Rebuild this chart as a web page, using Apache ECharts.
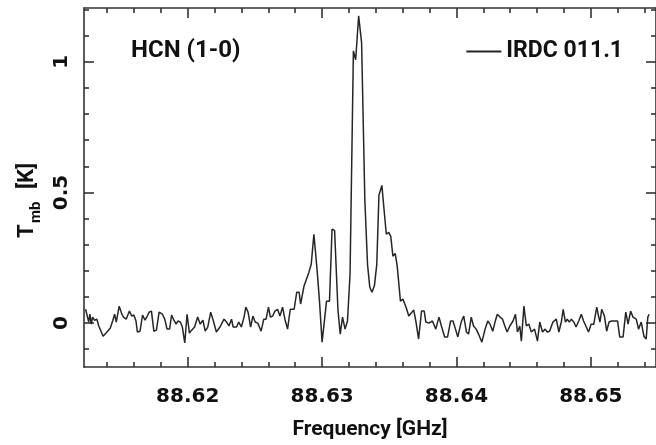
<!DOCTYPE html>
<html>
<head>
<meta charset="utf-8">
<script src="https://cdn.jsdelivr.net/npm/echarts@6/dist/echarts.min.js"></script>
<style>
  html, body { margin: 0; padding: 0; background: #ffffff; }
  #chart { width: 656px; height: 445px; }
</style>
</head>
<body>
<div id="chart"></div>
<script>
// HCN (1-0) spectrum toward IRDC 011.1: frequency [GHz] and main-beam temperature [K]
const frequencyGHz = [
  88.61240, 88.61263, 88.61272, 88.61282, 88.61292, 88.61307, 88.61324, 88.61338, 88.61370, 88.61399,
  88.61424, 88.61443, 88.61456, 88.61468, 88.61490, 88.61510, 88.61522, 88.61542, 88.61566, 88.61583,
  88.61599, 88.61615, 88.61625, 88.61645, 88.61664, 88.61682, 88.61699, 88.61713, 88.61730, 88.61748,
  88.61767, 88.61787, 88.61811, 88.61829, 88.61846, 88.61865, 88.61880, 88.61897, 88.61914, 88.61926,
  88.61945, 88.61960, 88.61978, 88.61995, 88.62013, 88.62029, 88.62051, 88.62074, 88.62093, 88.62113,
  88.62130, 88.62149, 88.62171, 88.62191, 88.62213, 88.62240, 88.62254, 88.62270, 88.62289, 88.62307,
  88.62326, 88.62338, 88.62363, 88.62380, 88.62399, 88.62419, 88.62432, 88.62449, 88.62468, 88.62485,
  88.62502, 88.62522, 88.62546, 88.62566, 88.62583, 88.62601, 88.62615, 88.62632, 88.62649, 88.62669,
  88.62686, 88.62706, 88.62723, 88.62743, 88.62763, 88.62792, 88.62811, 88.62829, 88.62840, 88.62865,
  88.62902, 88.62919, 88.62939, 88.62963, 88.62980, 88.63000, 88.63033, 88.63055, 88.63074, 88.63093,
  88.63118, 88.63135, 88.63152, 88.63171, 88.63189, 88.63208, 88.63233, 88.63250, 88.63272, 88.63294,
  88.63318, 88.63338, 88.63355, 88.63371, 88.63390, 88.63407, 88.63423, 88.63445, 88.63461, 88.63478,
  88.63496, 88.63511, 88.63527, 88.63544, 88.63559, 88.63583, 88.63601, 88.63625, 88.63645, 88.63662,
  88.63682, 88.63699, 88.63718, 88.63740, 88.63760, 88.63772, 88.63794, 88.63821, 88.63846, 88.63870,
  88.63888, 88.63912, 88.63934, 88.63956, 88.63974, 88.63993, 88.64010, 88.64035, 88.64054, 88.64074,
  88.64090, 88.64110, 88.64127, 88.64147, 88.64164, 88.64189, 88.64213, 88.64233, 88.64250, 88.64270,
  88.64287, 88.64304, 88.64324, 88.64343, 88.64360, 88.64377, 88.64397, 88.64421, 88.64439, 88.64454,
  88.64471, 88.64483, 88.64502, 88.64520, 88.64539, 88.64557, 88.64581, 88.64603, 88.64620, 88.64640,
  88.64660, 88.64676, 88.64693, 88.64718, 88.64743, 88.64762, 88.64782, 88.64794, 88.64811, 88.64824,
  88.64840, 88.64855, 88.64873, 88.64890, 88.64910, 88.64929, 88.64946, 88.64963, 88.64983, 88.65002,
  88.65022, 88.65044, 88.65057, 88.65068, 88.65081, 88.65101, 88.65118, 88.65135, 88.65154, 88.65179,
  88.65199, 88.65215, 88.65240, 88.65260, 88.65277, 88.65296, 88.65314, 88.65338, 88.65355, 88.65375,
  88.65395, 88.65412, 88.65424, 88.65434
];

const tmbK = [
  0.053, 0.004, 0.034, -0.004, 0.023, 0.011, 0.015, -0.011, -0.050, -0.034,
  -0.019, 0.011, 0.034, 0.004, 0.065, 0.034, 0.023, 0.015, 0.046, 0.027,
  0.031, 0.008, -0.034, -0.031, 0.031, 0.011, 0.027, 0.042, 0.046, -0.031,
  -0.027, 0.042, 0.034, 0.015, -0.023, -0.023, 0.031, 0.011, -0.004, 0.008,
  0.004, -0.015, -0.076, 0.034, -0.038, -0.027, -0.015, 0.023, -0.004, 0.011,
  -0.031, -0.015, 0.042, 0.008, -0.034, -0.015, -0.015, 0.015, 0.004, -0.011,
  0.015, -0.015, -0.015, 0.004, -0.015, 0.023, 0.061, 0.042, -0.015, 0.027,
  0.004, 0.000, -0.031, 0.015, 0.015, 0.061, 0.023, 0.027, 0.046, 0.053,
  0.027, 0.061, 0.015, -0.023, 0.053, 0.053, 0.118, 0.118, 0.073, 0.141,
  0.195, 0.225, 0.340, 0.202, 0.088, -0.073, 0.084, 0.084, 0.359, 0.355,
  0.050, -0.042, 0.023, -0.023, 0.008, 0.187, 1.042, 1.008, 1.176, 1.073,
  0.473, 0.225, 0.137, 0.118, 0.145, 0.225, 0.489, 0.527, 0.435, 0.340,
  0.347, 0.332, 0.256, 0.267, 0.218, 0.084, 0.092, 0.061, 0.027, 0.038,
  0.050, 0.004, -0.061, 0.046, 0.046, 0.004, 0.000, 0.008, -0.023, 0.023,
  -0.011, -0.053, -0.053, 0.008, 0.008, -0.023, -0.053, 0.004, 0.027, -0.034,
  -0.042, 0.023, -0.011, -0.023, -0.042, -0.073, -0.023, 0.008, -0.004, -0.031,
  0.004, 0.034, 0.023, 0.015, -0.011, -0.034, -0.011, 0.008, 0.034, -0.034,
  -0.011, -0.069, 0.065, -0.011, -0.004, -0.034, -0.023, -0.069, 0.004, -0.034,
  -0.023, -0.034, -0.031, 0.004, 0.015, -0.034, 0.008, 0.053, 0.004, 0.015,
  0.004, 0.015, 0.004, -0.015, 0.008, 0.034, 0.008, -0.011, -0.034, -0.004,
  -0.004, 0.061, 0.027, 0.004, 0.053, 0.027, -0.031, 0.004, 0.008, 0.008,
  0.008, -0.053, -0.053, 0.042, -0.004, 0.046, 0.023, 0.015, -0.023, 0.004,
  -0.050, -0.061, 0.023, 0.034
];

// Tick positions
const freqMajorTicks = [88.62, 88.63, 88.64, 88.65];
const freqMinorTicks = [88.614, 88.616, 88.618, 88.622, 88.624, 88.626, 88.628, 88.632, 88.634,
  88.636, 88.638, 88.642, 88.644, 88.646, 88.648, 88.652, 88.654];
const tmbMajorTicks = [0, 0.5, 1];
const tmbMinorTicks = [-0.1, 0.1, 0.2, 0.3, 0.4, 0.6, 0.7, 0.8, 0.9, 1.1, 1.2];

const transitionLabel = 'HCN (1-0)';
const sourceName = 'IRDC 011.1';
const xAxisTitle = 'Frequency [GHz]';

const FREQ_MIN = 88.61228, FREQ_MAX = 88.65485;
const TMB_MIN = -0.168, TMB_MAX = 1.206;

const INK = '#262626';
const AXIS_INK = '#333333';
const BOLD_FONT = 'Roboto, "Liberation Sans", sans-serif';
const TICK_FONT = '"DejaVu Sans", sans-serif';

const chart = echarts.init(document.getElementById('chart'), null, { renderer: 'canvas' });

function freqAxis(position, ticks, len, withLine, withLabels) {
  return {
    type: 'value', position: position, min: FREQ_MIN, max: FREQ_MAX,
    axisLine: { show: withLine, onZero: false, lineStyle: { color: AXIS_INK, width: 1.6 } },
    axisTick: { show: true, inside: true, length: len, customValues: ticks,
      lineStyle: { color: AXIS_INK, width: 1.6 } },
    axisLabel: withLabels ? {
      show: true, customValues: ticks, margin: 20,
      formatter: function (v) { return v.toFixed(2); },
      color: '#111', fontFamily: TICK_FONT, fontWeight: 'bold', fontSize: 20
    } : { show: false },
    splitLine: { show: false }
  };
}

function tmbAxis(position, ticks, len, withLine, withLabels) {
  return {
    type: 'value', position: position, min: TMB_MIN, max: TMB_MAX,
    axisLine: { show: withLine, onZero: false, lineStyle: { color: AXIS_INK, width: 1.6 } },
    axisTick: { show: true, inside: true, length: len, customValues: ticks,
      lineStyle: { color: AXIS_INK, width: 1.6 } },
    axisLabel: withLabels ? {
      show: true, customValues: ticks, rotate: 90, margin: 12,
      formatter: function (v) { return String(v); },
      color: '#111', fontFamily: TICK_FONT, fontWeight: 'bold', fontSize: 20
    } : { show: false },
    splitLine: { show: false }
  };
}

const xAxes = [
  freqAxis('bottom', freqMajorTicks, 10, true, true),
  freqAxis('bottom', freqMinorTicks, 5, false, false),
  freqAxis('top', freqMajorTicks, 10, true, false),
  freqAxis('top', freqMinorTicks, 5, false, false)
];
xAxes[0].name = xAxisTitle;
xAxes[0].nameLocation = 'middle';
xAxes[0].nameGap = 52;
xAxes[0].nameTextStyle = { color: '#111', fontFamily: BOLD_FONT, fontWeight: 'bold', fontSize: 21 };

const yAxes = [
  tmbAxis('left', tmbMajorTicks, 10, true, true),
  tmbAxis('left', tmbMinorTicks, 5, false, false),
  tmbAxis('right', tmbMajorTicks, 10, true, false),
  tmbAxis('right', tmbMinorTicks, 5, false, false)
];

chart.setOption({
  animation: false,
  backgroundColor: '#ffffff',
  grid: { left: 84, top: 8, width: 579, height: 360, containLabel: false },
  xAxis: xAxes,
  yAxis: yAxes,
  title: {
    text: transitionLabel, left: 126, top: 34,
    textStyle: { color: '#111', fontFamily: BOLD_FONT, fontWeight: 'bold', fontSize: 24 }
  },
  legend: {
    data: [sourceName], right: 28, top: 35,
    itemWidth: 35, itemHeight: 14, itemGap: 5,
    icon: 'path://M0,6 L35,6 L35,8 L0,8 Z',
    textStyle: { color: '#111', fontFamily: BOLD_FONT, fontWeight: 'bold', fontSize: 23, padding: [0, 0, 0, 0] }
  },
  graphic: [{
    type: 'group', x: 38, y: 238, rotation: Math.PI / 2,
    children: [
      { type: 'text', x: 0, y: 0, style: { text: 'T', fontFamily: BOLD_FONT, fontWeight: 'bold', fontSize: 22, fill: '#111', textVerticalAlign: 'bottom' } },
      { type: 'text', x: 15, y: 6, style: { text: 'mb', fontFamily: BOLD_FONT, fontWeight: 'bold', fontSize: 15, fill: '#111', textVerticalAlign: 'bottom' } },
      { type: 'text', x: 49, y: 0, style: { text: '[K]', fontFamily: BOLD_FONT, fontWeight: 'bold', fontSize: 22, fill: '#111', textVerticalAlign: 'bottom' } }
    ]
  }],
  series: [{
    name: sourceName,
    type: 'line',
    xAxisIndex: 0, yAxisIndex: 0,
    data: frequencyGHz.map(function (f, i) { return [f, tmbK[i]]; }),
    showSymbol: false, symbol: 'none',
    lineStyle: { color: INK, width: 1.5 },
    itemStyle: { color: INK },
    clip: true
  }]
});
</script>
</body>
</html>
